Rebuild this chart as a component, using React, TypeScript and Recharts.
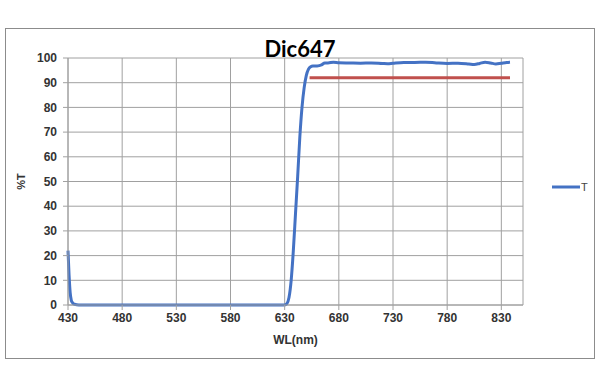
import { LineChart, Line, XAxis, YAxis, CartesianGrid } from 'recharts'

// measured transmission curve (nm, %T)
const WL = [
  430, 431, 432, 433, 434, 436, 440, 480, 530, 580, 630, 632, 634, 636, 638, 640,
  642, 644, 646, 648, 650, 652, 654, 656, 660, 664, 667, 670, 675, 680, 690, 700,
  710, 720, 725, 730, 740, 750, 760, 770, 780, 790, 800, 805, 810, 815, 820, 825,
  830, 835, 838,
]
const T = [
  22, 12, 5, 2, 1, 0.3, 0, 0, 0, 0, 0, 0.5, 3, 10, 22, 37,
  52, 68, 80, 88, 93, 95.5, 96.5, 96.8, 96.8, 97.2, 98, 98, 98.3, 98.1, 98, 97.9,
  98, 97.8, 97.7, 97.9, 98.2, 98.2, 98.3, 98, 97.8, 97.9, 97.6, 97.4, 97.8, 98.3, 98, 97.6,
  97.9, 98.2, 98.3,
]

// spec line
const SPEC_WL = [653, 838]
const SPEC_T = [92, 92]

const X_TICKS = [430, 480, 530, 580, 630, 680, 730, 780, 830]
const Y_TICKS = [0, 10, 20, 30, 40, 50, 60, 70, 80, 90, 100]

const curve = WL.map((wl, i) => ({ wl, T: T[i] }))
const spec = SPEC_WL.map((wl, i) => ({ wl, spec: SPEC_T[i] }))

const tickStyle = { fontSize: 12, fontWeight: 700, fill: '#333', fontFamily: 'Liberation Sans, Arial, sans-serif' }

function LegendBox() {
  return (
    <div
      style={{
        position: 'absolute', left: 552, top: 181, display: 'flex', alignItems: 'center',
        fontFamily: 'Liberation Sans, Arial, sans-serif', fontSize: 11, color: '#444',
      }}
    >
      <svg width={28} height={6}>
        <line x1={0} y1={3} x2={28} y2={3} stroke="#4472C4" strokeWidth={3} />
      </svg>
      <span style={{ marginLeft: 1 }}>T</span>
    </div>
  )
}

export default function App() {
  return (
    <div style={{ position: 'absolute', left: 0, top: 0, width: 600, height: 383, background: '#fff' }}>
      <div style={{ position: 'absolute', left: 5, top: 28, width: 588, height: 329, border: '1px solid #8c8c8c' }} />
      <div
        style={{
          position: 'absolute', left: 200, top: 35, width: 200, textAlign: 'center',
          fontFamily: 'Lato, sans-serif', fontWeight: 700, fontSize: 22, color: '#000',
        }}
      >
        Dic647
      </div>
      <LineChart
        width={600}
        height={383}
        margin={{ top: 58, right: 77, bottom: 48, left: 0 }}
        style={{ position: 'absolute', left: 0, top: 0 }}
      >
        <CartesianGrid stroke="#a0a0a0" strokeWidth={1} />
        <XAxis
          dataKey="wl"
          type="number"
          domain={[430, 850]}
          ticks={X_TICKS}
          allowDuplicatedCategory={false}
          height={30}
          tickSize={5}
          tickMargin={3}
          stroke="#a0a0a0"
          tick={tickStyle}
          label={{ value: 'WL(nm)', position: 'bottom', offset: 0, style: { ...tickStyle, fill: '#333' } }}
        />
        <YAxis
          type="number"
          domain={[0, 100]}
          ticks={Y_TICKS}
          width={68}
          tickSize={5}
          tickMargin={6}
          stroke="#a0a0a0"
          tick={tickStyle}
          label={{ value: '%T', angle: -90, position: 'insideLeft', offset: 21, style: { ...tickStyle, fontSize: 11, textAnchor: 'middle' } }}
        />
        <Line
          data={curve}
          dataKey="T"
          type="monotone"
          stroke="#4472C4"
          strokeWidth={3}
          dot={false}
          isAnimationActive={false}
        />
        <Line
          data={spec}
          dataKey="spec"
          type="linear"
          stroke="#C0504D"
          strokeWidth={3}
          dot={false}
          isAnimationActive={false}
        />
      </LineChart>
      <LegendBox />
    </div>
  )
}
